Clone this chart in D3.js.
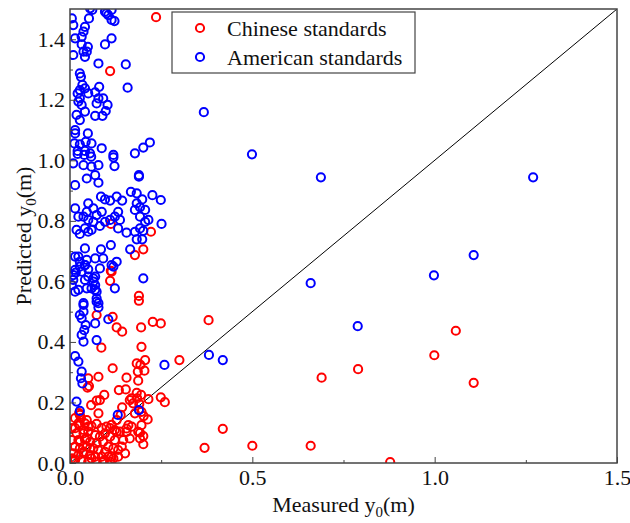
<!DOCTYPE html>
<html><head><meta charset="utf-8">
<script src="https://cdn.jsdelivr.net/npm/d3@7"></script>
<style>body{margin:0;background:#fff}svg{display:block}</style>
</head><body>
<svg id="c" width="630" height="523"></svg>
<script>
const xTicks = [0, 0.5, 1.0, 1.5];
const yTicks = [0, 0.2, 0.4, 0.6, 0.8, 1.0, 1.2, 1.4];
const xMinor = [0.25, 0.75, 1.25];
const yMinor = [0.1, 0.3, 0.5, 0.7, 0.9, 1.1, 1.3];
const seriesNames = ["Chinese standards", "American standards"];
const seriesColors = ["#ff0000", "#0000ff"];

const chinese = [
[0.236,1.473],[0.11,1.295],[0.112,0.79],[0.222,0.764],[0.178,0.687],[0.201,0.706],[0.112,0.635],[0.11,0.602],[0.114,0.632],[0.189,0.552],[0.189,0.536],
[0.073,0.489],[0.117,0.483],[0.128,0.448],[0.143,0.434],[0.195,0.448],[0.227,0.466],[0.249,0.461],[0.38,0.472],
[0.086,0.381],[0.196,0.384],[0.117,0.313],[0.206,0.34],[0.183,0.329],[0.193,0.324],[0.204,0.305],[0.186,0.302],[0.30,0.34],
[0.078,0.285],[0.155,0.282],[0.187,0.272],[0.05,0.28],[0.052,0.254],[0.048,0.249],
[0.134,0.241],[0.153,0.243],[0.183,0.232],[0.195,0.225],[0.215,0.211],[0.249,0.217],[0.26,0.201],
[0.094,0.225],[0.082,0.208],[0.073,0.206],[0.058,0.191],[0.143,0.184],[0.164,0.208],[0.173,0.197],[0.19,0.195],
[0.078,0.164],[0.178,0.164],[0.196,0.169],[0.202,0.155],[0.213,0.144],[0.128,0.142],[0.025,0.165],[0.03,0.148],[0.139,0.159],
[0.16,0.125],[0.155,0.114],[0.169,0.12],[0.196,0.125],[0.192,0.1],[0.201,0.089],[0.192,0.081],[0.164,0.081],[0.201,0.062],
[0.169,0.214],[0.184,0.214],[0.11,0.115],[0.128,0.103],[0.155,0.103],[0.187,0.103],
[0.69,0.282],[0.79,0.31],[0.999,0.356],[1.058,0.437],[1.107,0.265],[0.419,0.113],[0.369,0.05],[0.5,0.057],[0.66,0.057],[0.878,0.003],
[0.014,0.115],[0.027,0.126],[0.041,0.131],[0.059,0.122],[0.073,0.129],[0.087,0.115],[0.1,0.12],[0.114,0.126],[0.123,0.109],[0.137,0.104],
[0.037,0.098],[0.05,0.104],[0.069,0.092],[0.082,0.087],[0.096,0.098],[0.11,0.087],[0.123,0.076],[0.023,0.076],[0.041,0.078],[0.055,0.07],
[0.073,0.065],[0.091,0.07],[0.105,0.054],[0.119,0.048],[0.132,0.043],[0.014,0.054],[0.027,0.048],[0.046,0.054],[0.064,0.048],[0.078,0.043],
[0.096,0.037],[0.009,0.032],[0.023,0.026],[0.037,0.032],[0.055,0.026],[0.069,0.021],[0.087,0.021],[0.105,0.021],[0.119,0.015],[0.014,0.01],
[0.032,0.008],[0.05,0.004],[0.073,0.004],[0.091,0.003],[0.11,0.004],[0.005,0.015],[0.132,0.021],[0.146,0.076],[0.142,0.054],[0.151,0.032],
[0.014,0.148],[0.023,0.131],[0.005,0.115],[0.018,0.098],[0.037,0.109],[0.05,0.12],[0.005,0.076],[0.027,0.07],[0.046,0.082],[0.037,0.037],
[0.055,0.048],[0.009,0.01],[0.059,0.015],[0.027,0.159],[0.046,0.142],[0.114,0.021],[0.093,0.008]
];

const american = [
[0.367,1.159],[0.499,1.02],[0.688,0.944],[1.27,0.944],[0.66,0.594],[0.998,0.62],[1.107,0.687],[0.789,0.452],[0.381,0.357],[0.419,0.34],
[0.259,0.324],[0.131,0.159],[0.189,0.175],[0.105,0.475],
[0.055,1.502],[0.1,1.486],[0.114,1.497],
[0.005,1.469],[0.009,1.447],[0.052,1.469],[0.041,1.441],[0.037,1.425],[0.032,1.408],[0.061,1.497],[0.096,1.491],[0.105,1.48],[0.114,1.464],
[0.122,1.46],[0.114,1.403],[0.096,1.383],[0.014,1.403],[0.032,1.383],[0.049,1.375],[0.046,1.359],[0.037,1.359],[0.041,1.342],[0.009,1.348],
[0.078,1.32],[0.153,1.317],[0.027,1.287],[0.03,1.276],[0.034,1.249],[0.041,1.238],[0.027,1.232],[0.021,1.221],[0.05,1.221],[0.08,1.243],
[0.069,1.225],[0.078,1.205],[0.091,1.205],[0.103,1.183],[0.073,1.188],[0.158,1.24],[0.027,1.205],[0.032,1.183],[0.018,1.15],[0.027,1.133],
[0.041,1.161],[0.023,1.194],[0.069,1.147],[0.089,1.147],[0.098,1.163],[0.014,1.1],[0.014,1.089],[0.049,1.089],[0.012,1.056],[0.027,1.053],
[0.043,1.061],[0.059,1.056],[0.021,1.031],[0.041,1.031],[0.055,1.023],[0.087,1.04],[0.178,1.023],[0.201,1.042],[0.219,1.059],[0.119,1.018],
[0.021,1.021],[0.039,1.018],[0.058,1.012],[0.009,0.99],[0.037,0.984],[0.059,0.979],[0.078,0.984],[0.119,1.01],[0.122,0.981],
[0.046,0.94],[0.069,0.951],[0.078,0.926],[0.014,0.918],[0.189,0.951],[0.189,0.946],
[0.085,0.88],[0.096,0.871],[0.11,0.867],[0.128,0.88],[0.143,0.867],[0.167,0.896],[0.183,0.891],[0.198,0.871],[0.226,0.885],[0.249,0.869],
[0.05,0.858],[0.064,0.841],[0.046,0.83],[0.073,0.819],[0.087,0.83],[0.014,0.841],[0.023,0.814],[0.037,0.814],[0.05,0.803],[0.064,0.797],
[0.082,0.783],[0.096,0.797],[0.11,0.803],[0.132,0.83],[0.123,0.814],[0.137,0.803],[0.132,0.775],[0.155,0.761],[0.178,0.836],[0.183,0.858],
[0.192,0.845],[0.206,0.836],[0.192,0.814],[0.206,0.797],[0.215,0.803],[0.192,0.775],[0.201,0.767],[0.251,0.79],[0.178,0.764],[0.198,0.739],
[0.183,0.739],[0.018,0.77],[0.027,0.757],[0.05,0.764],[0.041,0.775],[0.059,0.77],
[0.112,0.72],[0.085,0.706],[0.041,0.709],[0.014,0.682],[0.023,0.682],[0.027,0.665],[0.041,0.654],[0.046,0.671],[0.069,0.676],[0.091,0.676],
[0.128,0.665],[0.165,0.706],
[0.014,0.638],[0.032,0.632],[0.05,0.64],[0.082,0.643],[0.119,0.649],[0.069,0.616],[0.009,0.605],[0.041,0.605],[0.064,0.599],[0.023,0.572],
[0.014,0.566],[0.046,0.577],[0.069,0.572],[0.123,0.577],[0.073,0.544],[0.201,0.61],[0.078,0.528],[0.037,0.528],
[0.009,0.621],[0.016,0.629],[0.005,0.588],[0.05,0.616],[0.064,0.61],[0.069,0.588],[0.073,0.566],[0.059,0.577],[0.027,0.649],[0.041,0.654],[0.114,0.654],
[0.037,0.522],[0.037,0.5],[0.027,0.489],[0.032,0.478],[0.043,0.456],[0.039,0.439],[0.032,0.423],[0.037,0.401],[0.069,0.461],[0.073,0.406],
[0.014,0.353],[0.023,0.335],[0.032,0.302],[0.03,0.28],[0.034,0.263],[0.018,0.203],[0.027,0.172],[0.073,0.533],[0.078,0.514]
];

const W = 630, H = 523;
const m = {left: 70, right: 13, top: 9, bottom: 60};
const iw = W - m.left - m.right, ih = H - m.top - m.bottom;
const svg = d3.select("#c");
const font = "'Liberation Serif','Times New Roman',serif";
const FS = 22;
const R = 4.1, SW = 2;

const x = d3.scaleLinear().domain([0, 1.5]).range([0, iw]);
const y = d3.scaleLinear().domain([0, 1.5]).range([ih, 0]);

const g = svg.append("g").attr("transform", `translate(${m.left},${m.top})`);

g.append("clipPath").attr("id", "clip").append("rect").attr("width", iw).attr("height", ih);

const plot = g.append("g").attr("clip-path", "url(#clip)");

// diagonal line
plot.append("line")
  .attr("x1", x(0)).attr("y1", y(0)).attr("x2", x(1.5)).attr("y2", y(1.5))
  .attr("stroke", "#000").attr("stroke-width", 1);

[chinese, american].forEach((data, i) => {
  plot.append("g").selectAll("circle").data(data).join("circle")
    .attr("cx", d => x(d[0])).attr("cy", d => y(d[1])).attr("r", R)
    .attr("fill", "none").attr("stroke", seriesColors[i]).attr("stroke-width", SW);
});

// axes
g.append("g").attr("transform", `translate(0,${ih})`)
  .call(d3.axisBottom(x).tickValues(xTicks).tickFormat(d3.format(".1f")).tickSizeInner(-6).tickSizeOuter(0).tickPadding(6));
g.append("g")
  .call(d3.axisLeft(y).tickValues(yTicks).tickFormat(d3.format(".1f")).tickSizeInner(-6).tickSizeOuter(0).tickPadding(5));
g.append("g").attr("transform", `translate(0,${ih})`)
  .call(d3.axisBottom(x).tickValues(xMinor).tickFormat("").tickSizeInner(-3).tickSizeOuter(0));
g.append("g")
  .call(d3.axisLeft(y).tickValues(yMinor).tickFormat("").tickSizeInner(-3).tickSizeOuter(0));
g.selectAll(".domain").remove();
g.selectAll(".tick line").attr("stroke", "#444");
g.selectAll(".tick text").attr("font-family", font).attr("font-size", FS).attr("fill", "#111");

// frame
g.append("rect").attr("width", iw).attr("height", ih)
  .attr("fill", "none").attr("stroke", "#444").attr("stroke-width", 1.5);

// axis titles
const xt = svg.append("text").attr("x", m.left + iw / 2).attr("y", 512)
  .attr("text-anchor", "middle").attr("font-family", font).attr("font-size", FS).attr("fill", "#111");
xt.append("tspan").text("Measured y");
xt.append("tspan").attr("font-size", 15).attr("dy", 5).text("0");
xt.append("tspan").attr("dy", -5).text("(m)");

const yt = svg.append("text").attr("transform", `translate(31,${m.top + ih / 2}) rotate(-90)`)
  .attr("text-anchor", "middle").attr("font-family", font).attr("font-size", FS).attr("fill", "#111");
yt.append("tspan").text("Predicted y");
yt.append("tspan").attr("font-size", 15).attr("dy", 5).text("0");
yt.append("tspan").attr("dy", -5).text("(m)");

// legend
const lg = svg.append("g").attr("transform", "translate(172,12)");
lg.append("rect").attr("width", 243).attr("height", 61)
  .attr("fill", "#fff").attr("stroke", "#444").attr("stroke-width", 1.2);
seriesNames.forEach((name, i) => {
  const yy = 16 + i * 29;
  lg.append("circle").attr("cx", 28).attr("cy", yy).attr("r", R)
    .attr("fill", "none").attr("stroke", seriesColors[i]).attr("stroke-width", SW);
  lg.append("text").attr("x", 55).attr("y", yy + 8).text(name)
    .attr("font-family", font).attr("font-size", FS).attr("fill", "#111");
});
</script>
</body></html>
